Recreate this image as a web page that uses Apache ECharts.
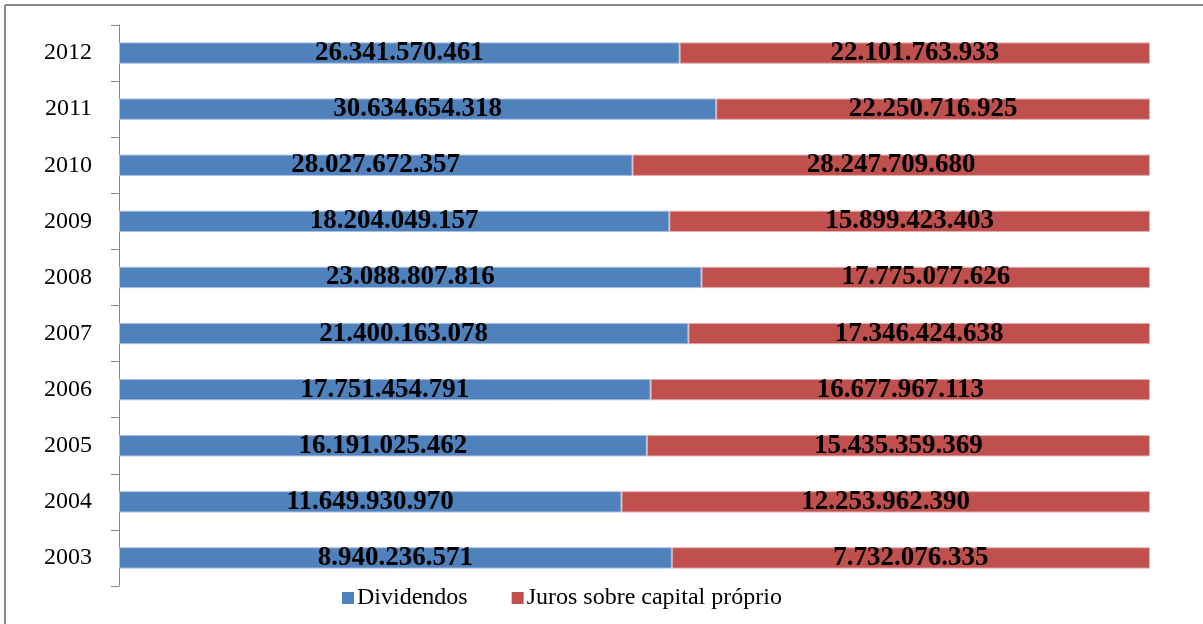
<!DOCTYPE html>
<html>
<head>
<meta charset="utf-8">
<script src="https://cdn.jsdelivr.net/npm/echarts@6/dist/echarts.min.js"></script>
<style>
  html, body { margin: 0; padding: 0; background: #fff; }
  #chart { width: 1203px; height: 624px; }
</style>
</head>
<body>
<div id="chart"></div>
<script>
// Distribuição de proventos por ano (R$)
const years = ['2003', '2004', '2005', '2006', '2007', '2008', '2009', '2010', '2011', '2012'];
const dividendos = [8940236571, 11649930970, 16191025462, 17751454791, 21400163078, 23088807816, 18204049157, 28027672357, 30634654318, 26341570461];
const juros = [7732076335, 12253962390, 15435359369, 16677967113, 17346424638, 17775077626, 15899423403, 28247709680, 22250716925, 22101763933];
const seriesNames = ['Dividendos', 'Juros sobre capital próprio'];

// Each bar shows its share of the year's total (100% stacked)
function shares(values) {
  return values.map((v, i) => ({ value: v / (dividendos[i] + juros[i]), raw: v }));
}

function fmt(n) {
  return String(n).replace(/\B(?=(\d{3})+(?!\d))/g, '.');
}

const serif = '"Liberation Serif", "DejaVu Serif", serif';

const labelStyle = {
  show: true,
  position: 'inside',
  color: '#000',
  fontFamily: serif,
  fontWeight: 'bold',
  fontSize: 27,
  formatter: p => fmt(p.data.raw)
};

const chart = echarts.init(document.getElementById('chart'), null, { renderer: 'canvas' });
chart.setOption({
  animation: false,
  backgroundColor: '#fff',
  graphic: [
    { type: 'line', shape: { x1: 5, y1: 5, x2: 1203, y2: 5 }, style: { stroke: '#8a8a8a', lineWidth: 2 } },
    { type: 'line', shape: { x1: 5, y1: 5, x2: 5, y2: 624 }, style: { stroke: '#8a8a8a', lineWidth: 2 } }
  ],
  grid: { left: 119, right: 53, top: 25, bottom: 38, containLabel: false },
  legend: {
    bottom: 9,
    left: 337,
    itemWidth: 12,
    itemHeight: 12,
    itemGap: 44,
    icon: 'rect',
    itemStyle: { borderWidth: 0 },
    textStyle: { fontFamily: serif, fontSize: 24, color: '#000', padding: [0, 0, 0, -2] },
    data: seriesNames
  },
  xAxis: {
    type: 'value',
    min: 0,
    max: 1,
    show: false
  },
  yAxis: {
    type: 'category',
    data: years,
    axisLine: { show: true, lineStyle: { color: '#868686', width: 1 } },
    axisTick: { show: true, length: 8, lineStyle: { color: '#868686' } },
    axisLabel: { fontFamily: serif, fontSize: 24, color: '#000', margin: 27 },
    splitLine: { show: false }
  },
  series: [
    {
      name: seriesNames[0],
      type: 'bar',
      stack: 'total',
      barWidth: '38%',
      itemStyle: { color: '#4F81BD', borderColor: '#a9c0df', borderWidth: 1 },
      label: labelStyle,
      data: shares(dividendos)
    },
    {
      name: seriesNames[1],
      type: 'bar',
      stack: 'total',
      barWidth: '38%',
      itemStyle: { color: '#C0504D', borderColor: '#e3aeac', borderWidth: 1 },
      label: labelStyle,
      data: shares(juros)
    }
  ]
});
</script>
</body>
</html>
